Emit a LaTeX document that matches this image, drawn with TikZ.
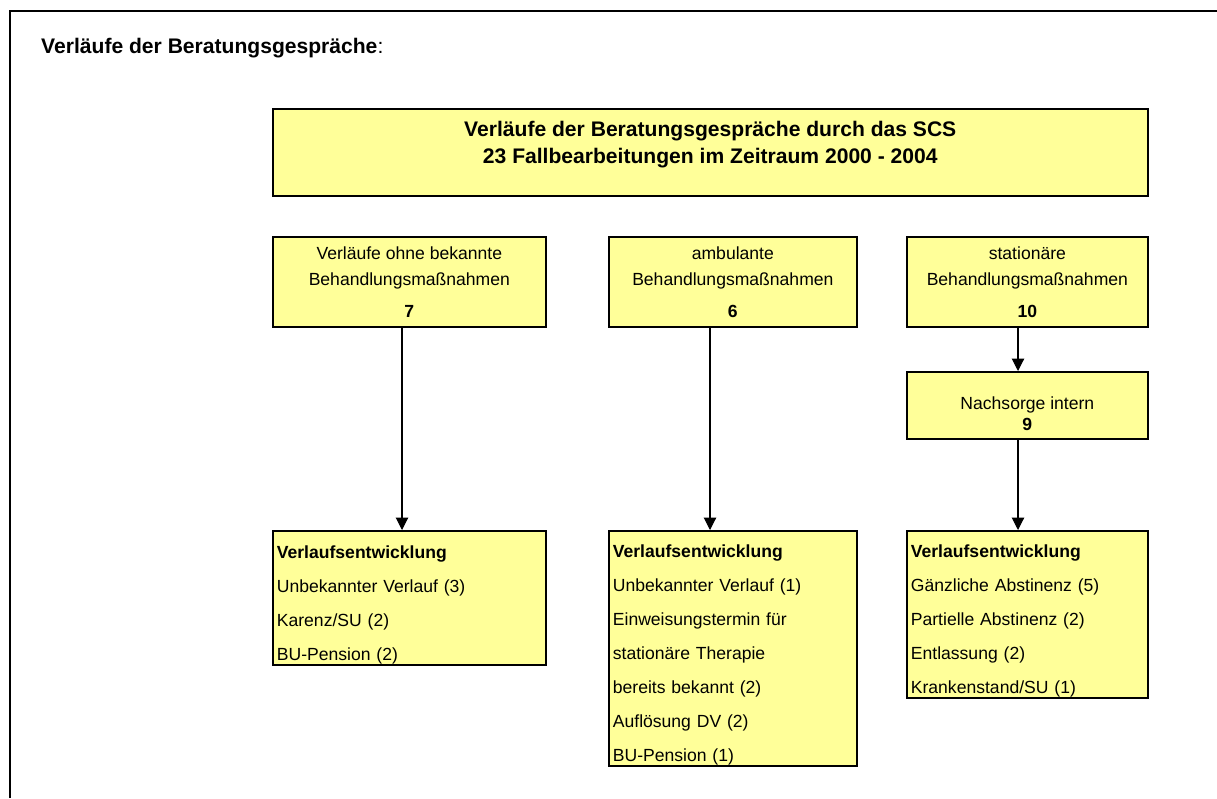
\documentclass[tikz,border=0pt]{standalone}
\usepackage{fontspec}
\setmainfont{Liberation Sans}
\usetikzlibrary{positioning, arrows.meta}

\definecolor{boxyellow}{RGB}{255,255,153}

% struts to move text inside fixed-height boxes
\newcommand{\pushdown}[1]{\rule{0pt}{#1}}
\newcommand{\pushup}[1]{\rule[-#1]{0pt}{1pt}}

\begin{document}
\begin{tikzpicture}[
    x=0.02cm, y=-0.02cm,
    >={Triangle[length=7pt,width=7pt]},
    every node/.style={font=\fontsize{10}{14.7}\selectfont},
    box/.style={draw, line width=1pt, fill=boxyellow, inner sep=0pt, anchor=north west},
    headbox/.style={box, align=center},
    resultbox/.style={box, align=left, text width=#1, inner xsep=0.08cm,
        font=\fontsize{10}{19.3}\selectfont},
    flow/.style={->, line width=0.6pt}
]

    \useasboundingbox (0,0) rectangle (1217,798);
    \draw[line width=1.5pt] (10,798) -- (10,11) -- (1217,11);

    \node[anchor=base west, font=\fontsize{12}{14}\selectfont] (heading) at (35,53)
        {\textbf{Verläufe der Beratungsgespräche}:};

    % top row
    \node[headbox, minimum width=17.5cm, minimum height=1.74cm,
        font=\fontsize{12}{15.3}\selectfont\bfseries] (title) at (272,108)
        {Verläufe der Beratungsgespräche durch das SCS\\23 Fallbearbeitungen im Zeitraum 2000 - 2004\pushup{11.5pt}};

    \node[headbox, minimum width=5.46cm, minimum height=1.8cm] (ohne) at (272,236)
        {Verläufe ohne bekannte\\Behandlungsmaßnahmen\\[3.5pt]\textbf{7}};
    \node[headbox, minimum width=4.96cm, minimum height=1.8cm] (amb) at (608,236)
        {ambulante\\Behandlungsmaßnahmen\\[3.5pt]\textbf{6}};
    \node[headbox, minimum width=4.82cm, minimum height=1.8cm] (stat) at (906,236)
        {stationäre\\Behandlungsmaßnahmen\\[3.5pt]\textbf{10}};
    \node[headbox, minimum width=4.82cm, minimum height=1.34cm,
        font=\fontsize{10}{12}\selectfont] (nach) at (906,371)
        {\pushdown{17pt}Nachsorge intern\\\textbf{9}};

    % results
    \node[resultbox=5.3cm, minimum height=2.68cm] (ohneres) at (272,530)
        {\pushdown{15pt}\textbf{Verlaufsentwicklung}\\Unbekannter Verlauf (3)\\Karenz/SU (2)\\BU-Pension (2)};
    \node[resultbox=4.8cm, minimum height=4.7cm] (ambres) at (608,530)
        {\pushdown{15pt}\textbf{Verlaufsentwicklung}\\Unbekannter Verlauf (1)\\Einweisungstermin für\\stationäre Therapie\\bereits bekannt (2)\\Auflösung DV (2)\\BU-Pension (1)};
    \node[resultbox=4.66cm, minimum height=3.34cm] (statres) at (906,530)
        {\pushdown{15pt}\textbf{Verlaufsentwicklung}\\Gänzliche Abstinenz (5)\\Partielle Abstinenz (2)\\Entlassung (2)\\Krankenstand/SU (1)};

    \coordinate (ohneX) at (402,0);
    \coordinate (ambX) at (710,0);
    \coordinate (statX) at (1018,0);

    \draw[flow] (ohne.south -| ohneX) -- (ohneres.north -| ohneX);
    \draw[flow] (amb.south -| ambX) -- (ambres.north -| ambX);
    \draw[flow] (stat.south -| statX) -- (nach.north -| statX);
    \draw[flow] (nach.south -| statX) -- (statres.north -| statX);

\end{tikzpicture}
\end{document}
